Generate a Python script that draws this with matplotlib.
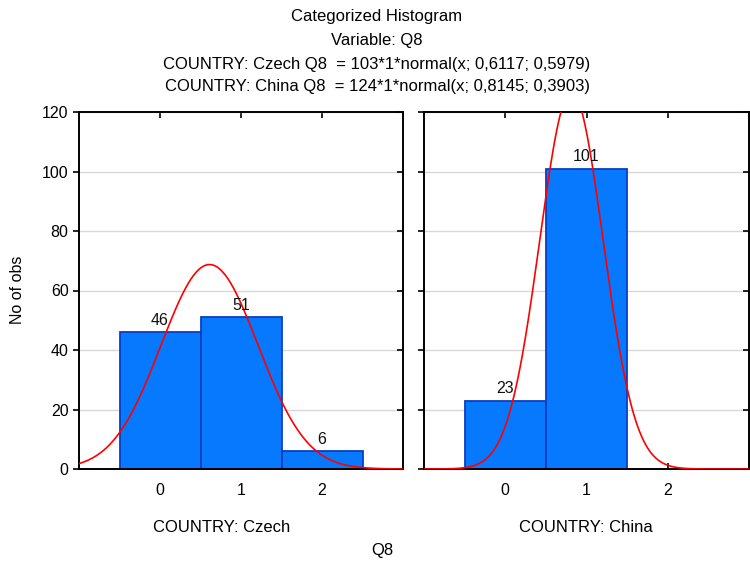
import numpy as np
import matplotlib
matplotlib.use("Agg")
import matplotlib.pyplot as plt

plt.rcParams['font.family'] = ['Liberation Sans', 'DejaVu Sans']

# Histogram data for Q8 by country
categories = [0, 1, 2]
czech_counts = [46, 51, 6]
china_counts = [23, 101, 0]
czech_fit = dict(n=103, mean=0.6117, sd=0.5979)
china_fit = dict(n=124, mean=0.8145, sd=0.3903)
panel_names = ["COUNTRY: Czech", "COUNTRY: China"]
title_lines = [
    "Categorized Histogram",
    "Variable: Q8",
    "COUNTRY: Czech Q8  = 103*1*normal(x; 0,6117; 0,5979)",
    "COUNTRY: China Q8  = 124*1*normal(x; 0,8145; 0,3903)",
]

W, H = 750, 567
fig = plt.figure(figsize=(W / 100, H / 100), dpi=100)


def frac_x(px):
    return px / W


def frac_y(py):
    return 1 - py / H


bar_face = "#0679FF"
bar_edge = "#0A3EC2"
fs_tick = 11.5
fs_text = 12


def draw_panel(ax, counts, fit, show_ylabels):
    ax.set_xlim(-1, 3)
    ax.set_ylim(0, 120)
    ax.set_yticks(np.arange(0, 121, 20))
    ax.set_xticks(categories)
    ax.grid(axis='y', color='#d8d8d8', linewidth=1.0)
    ax.set_axisbelow(True)
    for c, v in zip(categories, counts):
        if v <= 0:
            continue
        ax.bar(c, v, width=1.0, color=bar_face, edgecolor=bar_edge,
               linewidth=1.3, zorder=2)
        ax.text(c, v + 1.5, str(v), ha='center', va='bottom', fontsize=fs_tick,
                color='#111111', zorder=4)
    x = np.linspace(-1, 3, 600)
    y = fit['n'] * np.exp(-0.5 * ((x - fit['mean']) / fit['sd']) ** 2) / (fit['sd'] * np.sqrt(2 * np.pi))
    ax.plot(x, y, color='#ff0000', linewidth=1.2, zorder=3, clip_on=True)
    for s in ax.spines.values():
        s.set_linewidth(1.4)
        s.set_color('black')
    ax.tick_params(axis='x', direction='in', top=True, bottom=True,
                   length=4, width=1.2, labelsize=fs_tick, pad=10)
    ax.tick_params(axis='y', which='both', left=True, right=True,
                   direction='out', length=4, width=1.2, labelsize=fs_tick)
    # right-side ticks point inward
    for t in ax.yaxis.get_major_ticks():
        t.tick2line.set_marker(matplotlib.lines.TICKLEFT)
    if not show_ylabels:
        ax.tick_params(axis='y', labelleft=False)


ax1 = fig.add_axes([frac_x(79), frac_y(469), frac_x(403) - frac_x(79), frac_y(112) - frac_y(469)])
ax2 = fig.add_axes([frac_x(424), frac_y(469), frac_x(749) - frac_x(424), frac_y(112) - frac_y(469)])

draw_panel(ax1, czech_counts, czech_fit, True)
draw_panel(ax2, china_counts, china_fit, False)

# Titles
title_y = [17, 40, 64, 86]
for txt, py in zip(title_lines, title_y):
    fig.text(frac_x(377), frac_y(py), txt, ha='center', va='center', fontsize=fs_text)

fig.text(frac_x(222), frac_y(527), panel_names[0], ha='center', va='center', fontsize=fs_text)
fig.text(frac_x(586), frac_y(527), panel_names[1], ha='center', va='center', fontsize=fs_text)
fig.text(frac_x(382), frac_y(551), "Q8", ha='center', va='center', fontsize=fs_text)
fig.text(frac_x(17), frac_y(290), "No of obs", ha='center', va='center', rotation=90, fontsize=fs_tick)

fig.savefig("out.png", dpi=100)
